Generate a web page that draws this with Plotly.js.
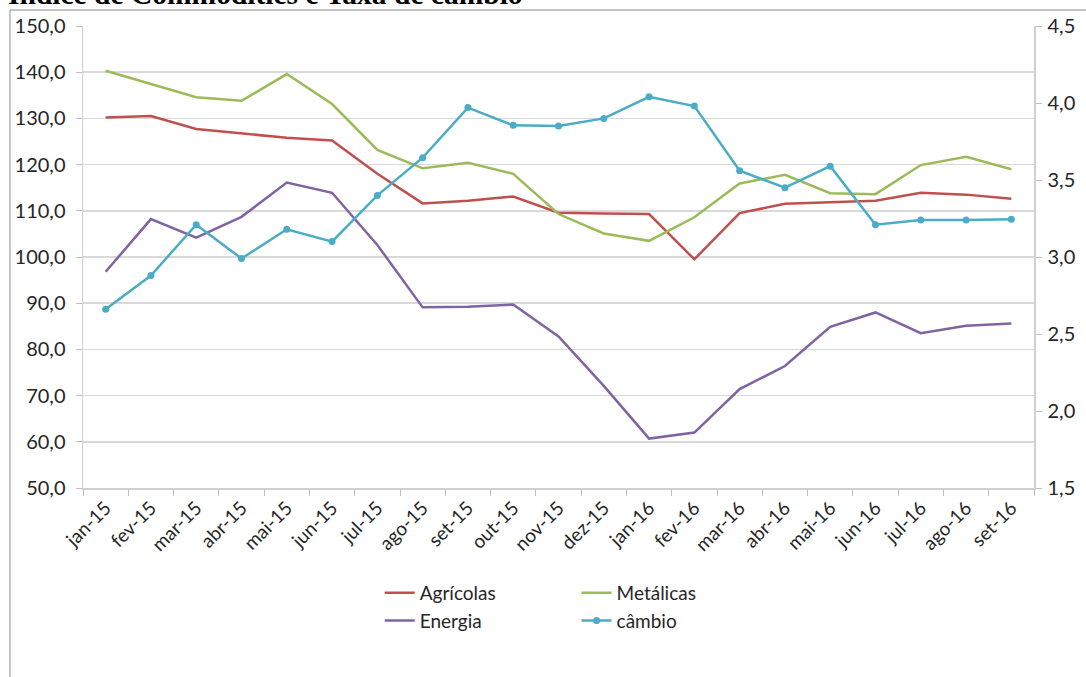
<!DOCTYPE html>
<html>
<head>
<meta charset="utf-8">
<script src="https://cdn.plot.ly/plotly-3.0.1.min.js"></script>
<style>html,body{margin:0;padding:0;background:#fff;}#chart{width:1086px;height:677px;}</style>
</head>
<body>
<div id="chart"></div>
<script>
const months = ["jan-15","fev-15","mar-15","abr-15","mai-15","jun-15","jul-15","ago-15","set-15","out-15","nov-15","dez-15","jan-16","fev-16","mar-16","abr-16","mai-16","jun-16","jul-16","ago-16","set-16"];
const agricolas = [130.2,130.5,127.7,126.8,125.8,125.2,118.0,111.6,112.2,113.1,109.6,109.4,109.3,99.5,109.5,111.5,111.8,112.2,113.9,113.5,112.6];
const metalicas = [140.3,137.4,134.6,133.8,139.6,133.1,123.2,119.2,120.4,118.0,109.3,105.1,103.5,108.6,115.9,117.8,113.8,113.6,119.9,121.7,119.0];
const energia = [96.8,108.2,104.2,108.7,116.1,113.9,102.6,89.1,89.25,89.7,82.8,72.1,60.7,62.0,71.4,76.4,84.9,88.0,83.5,85.1,85.6];
const cambio = [2.66,2.88,3.21,2.99,3.18,3.10,3.40,3.645,3.97,3.855,3.85,3.90,4.04,3.98,3.56,3.45,3.59,3.21,3.24,3.24,3.245];

const fontFam = "Lato, 'Open Sans', sans-serif";
const txt = '#262626';

const traces = [
  {x: months, y: agricolas, name: 'Agrícolas', type: 'scatter', mode: 'lines', line: {color: '#C0504D', width: 2.5}, legend: 'legend'},
  {x: months, y: energia, name: 'Energia', type: 'scatter', mode: 'lines', line: {color: '#8064A2', width: 2.5}, legend: 'legend'},
  {x: months, y: metalicas, name: 'Metálicas', type: 'scatter', mode: 'lines', line: {color: '#9BBB59', width: 2.5}, legend: 'legend2'},
  {x: months, y: cambio, name: 'câmbio', type: 'scatter', mode: 'lines+markers', yaxis: 'y2', line: {color: '#4BACC6', width: 2.5}, marker: {size: 7, color: '#4BACC6'}, legend: 'legend2'}
];

const layout = {
  width: 1086, height: 677,
  margin: {l: 83, r: 52, t: 26, b: 189},
  paper_bgcolor: '#fff', plot_bgcolor: '#fff',
  separators: ',.',
  font: {family: fontFam, size: 19, color: txt},
  showlegend: true,
  xaxis: {
    type: 'category', range: [-0.5, 20.5],
    tickangle: -45, tickfont: {size: 19, color: txt},
    ticks: 'outside', tickson: 'boundaries', ticklen: 6, tickcolor: '#bfbfbf',
    showline: true, linecolor: '#d0d0d0', linewidth: 1.5,
    showgrid: false, zeroline: false
  },
  yaxis: {
    range: [50, 150], dtick: 10, tick0: 50, tickformat: '.1f',
    tickfont: {size: 20, color: txt},
    showgrid: true, gridcolor: '#d9d9d9', gridwidth: 1.5,
    showline: true, linecolor: '#d0d0d0', linewidth: 1.5,
    ticks: 'outside', ticklen: 6, tickcolor: '#bfbfbf',
    ticklabelstandoff: 6,
    zeroline: false
  },
  yaxis2: {
    overlaying: 'y', side: 'right',
    range: [1.5, 4.5], dtick: 0.5, tick0: 1.5, tickformat: '.1f',
    tickfont: {size: 20, color: txt},
    showgrid: false, showline: true, linecolor: '#d0d0d0', linewidth: 1.5,
    ticks: 'outside', ticklen: 6, tickcolor: '#bfbfbf', zeroline: false,
    ticklabelstandoff: 2
  },
  legend: {
    x: 0.312, xanchor: 'left', y: -0.186, yanchor: 'top',
    orientation: 'v', font: {size: 19, color: txt}, tracegroupgap: 0,
    bgcolor: 'rgba(0,0,0,0)', itemwidth: 30
  },
  legend2: {
    x: 0.519, xanchor: 'left', y: -0.186, yanchor: 'top',
    orientation: 'v', font: {size: 19, color: txt}, tracegroupgap: 0,
    bgcolor: 'rgba(0,0,0,0)', itemwidth: 30
  },
  annotations: [{
    text: '<b>Índice de Commodities e Taxa de câmbio</b>',
    xref: 'paper', yref: 'paper', x: -0.0805, y: 1.03, xanchor: 'left', yanchor: 'bottom',
    showarrow: false, font: {family: "'Liberation Serif', 'Times New Roman', serif", size: 29.5, color: '#000'}
  }],
  shapes: [{
    type: 'rect', xref: 'paper', yref: 'paper',
    x0: -0.0768, x1: 1.06, y0: -0.42, y1: 1.0346,
    line: {color: '#8c8c8c', width: 1}, fillcolor: 'rgba(0,0,0,0)', layer: 'above'
  }]
};

Plotly.newPlot('chart', traces, layout, {staticPlot: true, displayModeBar: false});
</script>
</body>
</html>
